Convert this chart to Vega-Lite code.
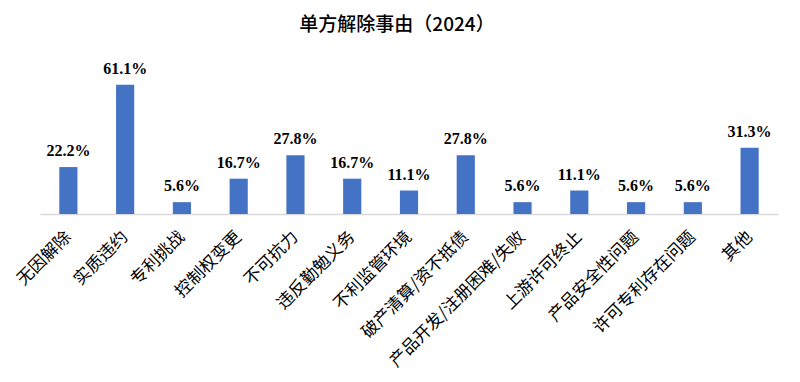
{
  "$schema": "https://vega.github.io/schema/vega-lite/v6.json",
  "width": 738,
  "height": 148,
  "autosize": {"type": "none"},
  "padding": {"left": 40, "top": 66, "right": 22, "bottom": 168},
  "background": "white",
  "title": {
    "text": "单方解除事由（2024）",
    "font": "Noto Sans CJK SC",
    "fontSize": 19,
    "fontWeight": 500,
    "color": "#000000",
    "anchor": "middle",
    "frame": "group",
    "dx": -12,
    "offset": 26
  },
  "data": {
    "values": [
      {"reason": "无因解除", "pct": 0.222},
      {"reason": "实质违约", "pct": 0.611},
      {"reason": "专利挑战", "pct": 0.056},
      {"reason": "控制权变更", "pct": 0.167},
      {"reason": "不可抗力", "pct": 0.278},
      {"reason": "违反勤勉义务", "pct": 0.167},
      {"reason": "不利监管环境", "pct": 0.111},
      {"reason": "破产清算/资不抵债", "pct": 0.278},
      {"reason": "产品开发/注册困难/失败", "pct": 0.056},
      {"reason": "上游许可终止", "pct": 0.111},
      {"reason": "产品安全性问题", "pct": 0.056},
      {"reason": "许可专利存在问题", "pct": 0.056},
      {"reason": "其他", "pct": 0.313}
    ]
  },
  "encoding": {
    "x": {
      "field": "reason",
      "type": "nominal",
      "sort": null,
      "scale": {"paddingInner": 0.68, "paddingOuter": 0.34},
      "axis": {
        "title": null,
        "labelAngle": -45,
        "labelAlign": "right",
        "labelBaseline": "middle",
        "labelFont": "Noto Sans CJK SC",
        "labelFontSize": 17,
        "labelColor": "#000000",
        "labelPadding": 20,
        "labelLimit": 0,
        "ticks": false,
        "domainColor": "#d9d9d9",
        "domainWidth": 1.5
      }
    },
    "y": {
      "field": "pct",
      "type": "quantitative",
      "scale": {"domain": [0, 0.7]},
      "axis": null
    }
  },
  "layer": [
    {"mark": {"type": "bar", "color": "#4472c4"}},
    {
      "mark": {
        "type": "text",
        "dy": -16,
        "font": "Liberation Serif",
        "fontSize": 16,
        "fontWeight": "bold",
        "color": "#000000"
      },
      "encoding": {
        "text": {"field": "pct", "type": "quantitative", "format": ".1%"}
      }
    }
  ],
  "config": {"view": {"stroke": null}}
}
